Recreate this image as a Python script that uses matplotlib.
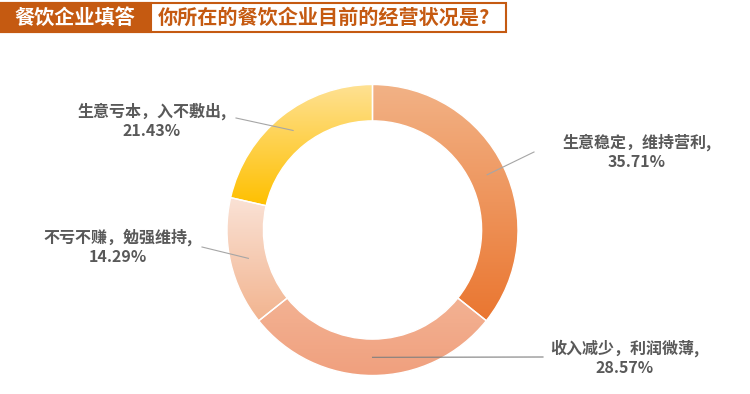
import numpy as np
import matplotlib
matplotlib.use("Agg")
import matplotlib.pyplot as plt
from matplotlib.patches import Rectangle
from matplotlib.colors import LinearSegmentedColormap

plt.rcParams["font.family"] = ["Noto Sans CJK SC", "DejaVu Sans"]

# data
labels = ["生意稳定，维持营利,", "收入减少，利润微薄,", "不亏不赚，勉强维持,", "生意亏本，入不敷出,"]
values = [35.71, 28.57, 14.29, 21.43]
pct_text = ["35.71%", "28.57%", "14.29%", "21.43%"]
tag_text = "餐饮企业填答"
question = "你所在的餐饮企业目前的经营状况是?"

# gradient (top, bottom) per slice
grad_colors = [
    ("#F2B286", "#EA7630"),
    ("#F3B293", "#F0A07E"),
    ("#FAE2D6", "#F2B48F"),
    ("#FEE193", "#FFC000"),
]

W, H = 750, 394
CX, CY, R = 372.5, 230, 145.5


def px(x, y):
    # pixel position (from top-left) -> data coords of the pie axes
    return (x - CX) / R, (CY - y) / R


fig = plt.figure(figsize=(W / 100, H / 100), dpi=100)
ax = fig.add_axes([0, 0, 1, 1])

wedges, _ = ax.pie(values, startangle=90, counterclock=False, radius=1,
                   wedgeprops=dict(width=0.25, edgecolor="white", linewidth=1))

for w, (c_top, c_bot) in zip(wedges, grad_colors):
    bb = w.get_path().get_extents()
    cmap = LinearSegmentedColormap.from_list("g", [c_top, c_bot])
    grad = np.linspace(0, 1, 256).reshape(-1, 1)
    im = ax.imshow(grad, extent=(bb.x0, bb.x1, bb.y0, bb.y1), origin="upper",
                   aspect="auto", cmap=cmap, zorder=1)
    im.set_clip_path(w)
    w.set_facecolor("none")
    w.set_zorder(2)

# labels with leader lines
text_pos = [(637, 152), (625, 358), (118, 247), (152, 121)]
line_end = [(534, 152), (543, 357), (202, 247), (236, 118)]
line_col = ["#A6A6A6", "#7F7F7F", "#A6A6A6", "#A6A6A6"]

ang = 90.0
for i, v in enumerate(values):
    span = v / sum(values) * 360
    mid = np.deg2rad(ang - span / 2)
    ang -= span
    sx, sy = 0.875 * np.cos(mid), 0.875 * np.sin(mid)
    ex, ey = px(*line_end[i])
    ax.plot([sx, ex], [sy, ey], color=line_col[i], lw=0.8, zorder=3)
    tx, ty = px(*text_pos[i])
    ax.text(tx, ty, labels[i] + "\n" + pct_text[i], ha="center", va="center",
            fontsize=11.5, fontweight="heavy", color="#595959", linespacing=1.25)

ax.set_xlim(-CX / R, (W - CX) / R)
ax.set_ylim((CY - H) / R, CY / R)
ax.set_aspect("equal")
ax.axis("off")

# title band
def fx(x):
    return x / W


def fy(y):
    return 1 - y / H


fig.add_artist(Rectangle((fx(1), fy(32)), fx(505), 29 / H, transform=fig.transFigure,
                         facecolor="white", edgecolor="#C55A11", lw=1.5))
fig.add_artist(Rectangle((fx(1), fy(32)), fx(150), 29 / H, transform=fig.transFigure,
                         facecolor="#C55A11", edgecolor="#C55A11", lw=1.5))
fig.text(fx(75), fy(17.5), tag_text, ha="center", va="center", fontsize=14.5,
         fontweight="heavy", color="white")
fig.text(fx(158), fy(17.5), question, ha="left", va="center", fontsize=14.5,
         fontweight="heavy", color="#C55A11")

fig.savefig("out.png", dpi=100)
